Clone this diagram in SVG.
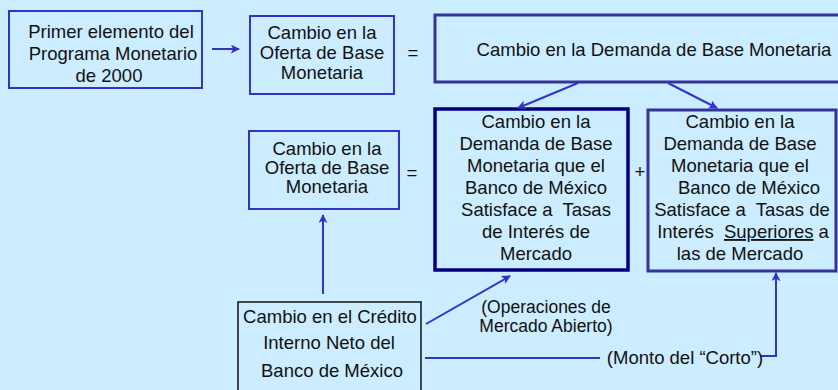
<svg xmlns="http://www.w3.org/2000/svg" width="838" height="390" viewBox="0 0 838 390">
<style>
text{font-family:"Liberation Sans",Arial,sans-serif;font-size:18.5px;fill:#111;text-anchor:middle}
.sm{font-size:17.5px}
.b1{fill:none;stroke:#3333CC;stroke-width:2}
.b2{fill:none;stroke:#333399;stroke-width:3}
.b3{fill:none;stroke:#000080;stroke-width:3.5}
.b4{fill:none;stroke:#111;stroke-width:1.5}
.c{fill:none;stroke:#3333CC;stroke-width:2}
</style>
<defs>
<marker id="ah" viewBox="0 0 10 10" refX="9" refY="5" markerWidth="9" markerHeight="9" markerUnits="userSpaceOnUse" orient="auto">
<path d="M0,0 L10,5 L0,10 L2.5,5 z" fill="#3333CC"/>
</marker>
</defs>
<rect x="0" y="0" width="838" height="390" fill="#CCECFF"/>
<g id="n1">
<rect class="b1" x="9" y="11" width="193" height="77"/>
<text x="111" y="38">Primer elemento del</text>
<text x="113" y="60">Programa Monetario</text>
<text x="109" y="82">de 2000</text>
</g>
<g id="n2">
<rect class="b1" x="250" y="16" width="144" height="78"/>
<text x="322" y="39">Cambio en la</text>
<text x="322" y="59">Oferta de Base</text>
<text x="322" y="79">Monetaria</text>
</g>
<g id="eq1"><text x="413" y="59">=</text></g>
<g id="n3">
<rect class="b2" x="435" y="15" width="420" height="67"/>
<text x="654" y="56">Cambio en la Demanda de Base Monetaria</text>
</g>
<g id="n4">
<rect class="b1" x="249" y="131" width="150" height="78"/>
<text x="327" y="155">Cambio en la</text>
<text x="327" y="174">Oferta de Base</text>
<text x="327" y="193">Monetaria</text>
</g>
<g id="eq2"><text x="412" y="179">=</text></g>
<g id="n5">
<rect class="b3" x="435" y="109" width="193" height="161"/>
<text x="536" y="128">Cambio en la</text>
<text x="536" y="150">Demanda de Base</text>
<text x="536" y="172">Monetaria que el</text>
<text x="536" y="194">Banco de México</text>
<text x="536" y="216" xml:space="preserve">Satisface a  Tasas</text>
<text x="536" y="238">de Interés de</text>
<text x="536" y="260">Mercado</text>
</g>
<g id="plus"><text x="640" y="178">+</text></g>
<g id="n6">
<rect class="b2" x="648" y="110" width="188" height="161"/>
<text x="740" y="128">Cambio en la</text>
<text x="740" y="150">Demanda de Base</text>
<text x="740" y="172">Monetaria que el</text>
<text x="749" y="194">Banco de México</text>
<text x="742" y="216" xml:space="preserve">Satisface a  Tasas de</text>
<text x="743" y="238" xml:space="preserve">Interés  <tspan text-decoration="underline">Superiores</tspan> a</text>
<text x="740" y="260">las de Mercado</text>
</g>
<g id="n7">
<rect class="b4" x="238" y="302" width="183" height="100"/>
<text x="330" y="323">Cambio en el Crédito</text>
<text x="329" y="349">Interno Neto del</text>
<text x="332" y="377">Banco de México</text>
</g>
<g id="connectors">
<line class="c" x1="212" y1="49" x2="239" y2="49" marker-end="url(#ah)"/>
<line class="c" x1="578" y1="83" x2="518" y2="108" marker-end="url(#ah)"/>
<line class="c" x1="668" y1="83" x2="717" y2="108" marker-end="url(#ah)"/>
<line class="c" x1="323" y1="294" x2="323" y2="215" marker-end="url(#ah)"/>
<line class="c" x1="426" y1="324" x2="510" y2="276" marker-end="url(#ah)"/>
<line class="c" x1="425" y1="358" x2="600" y2="358"/>
<polyline class="c" points="760,356 776,356 776,273" marker-end="url(#ah)"/>
</g>
<g id="labels">
<text class="sm" x="546" y="313">(Operaciones de</text>
<text class="sm" x="546" y="332">Mercado Abierto)</text>
<text x="685" y="364">(Monto del “Corto”)</text>
</g>
</svg>
